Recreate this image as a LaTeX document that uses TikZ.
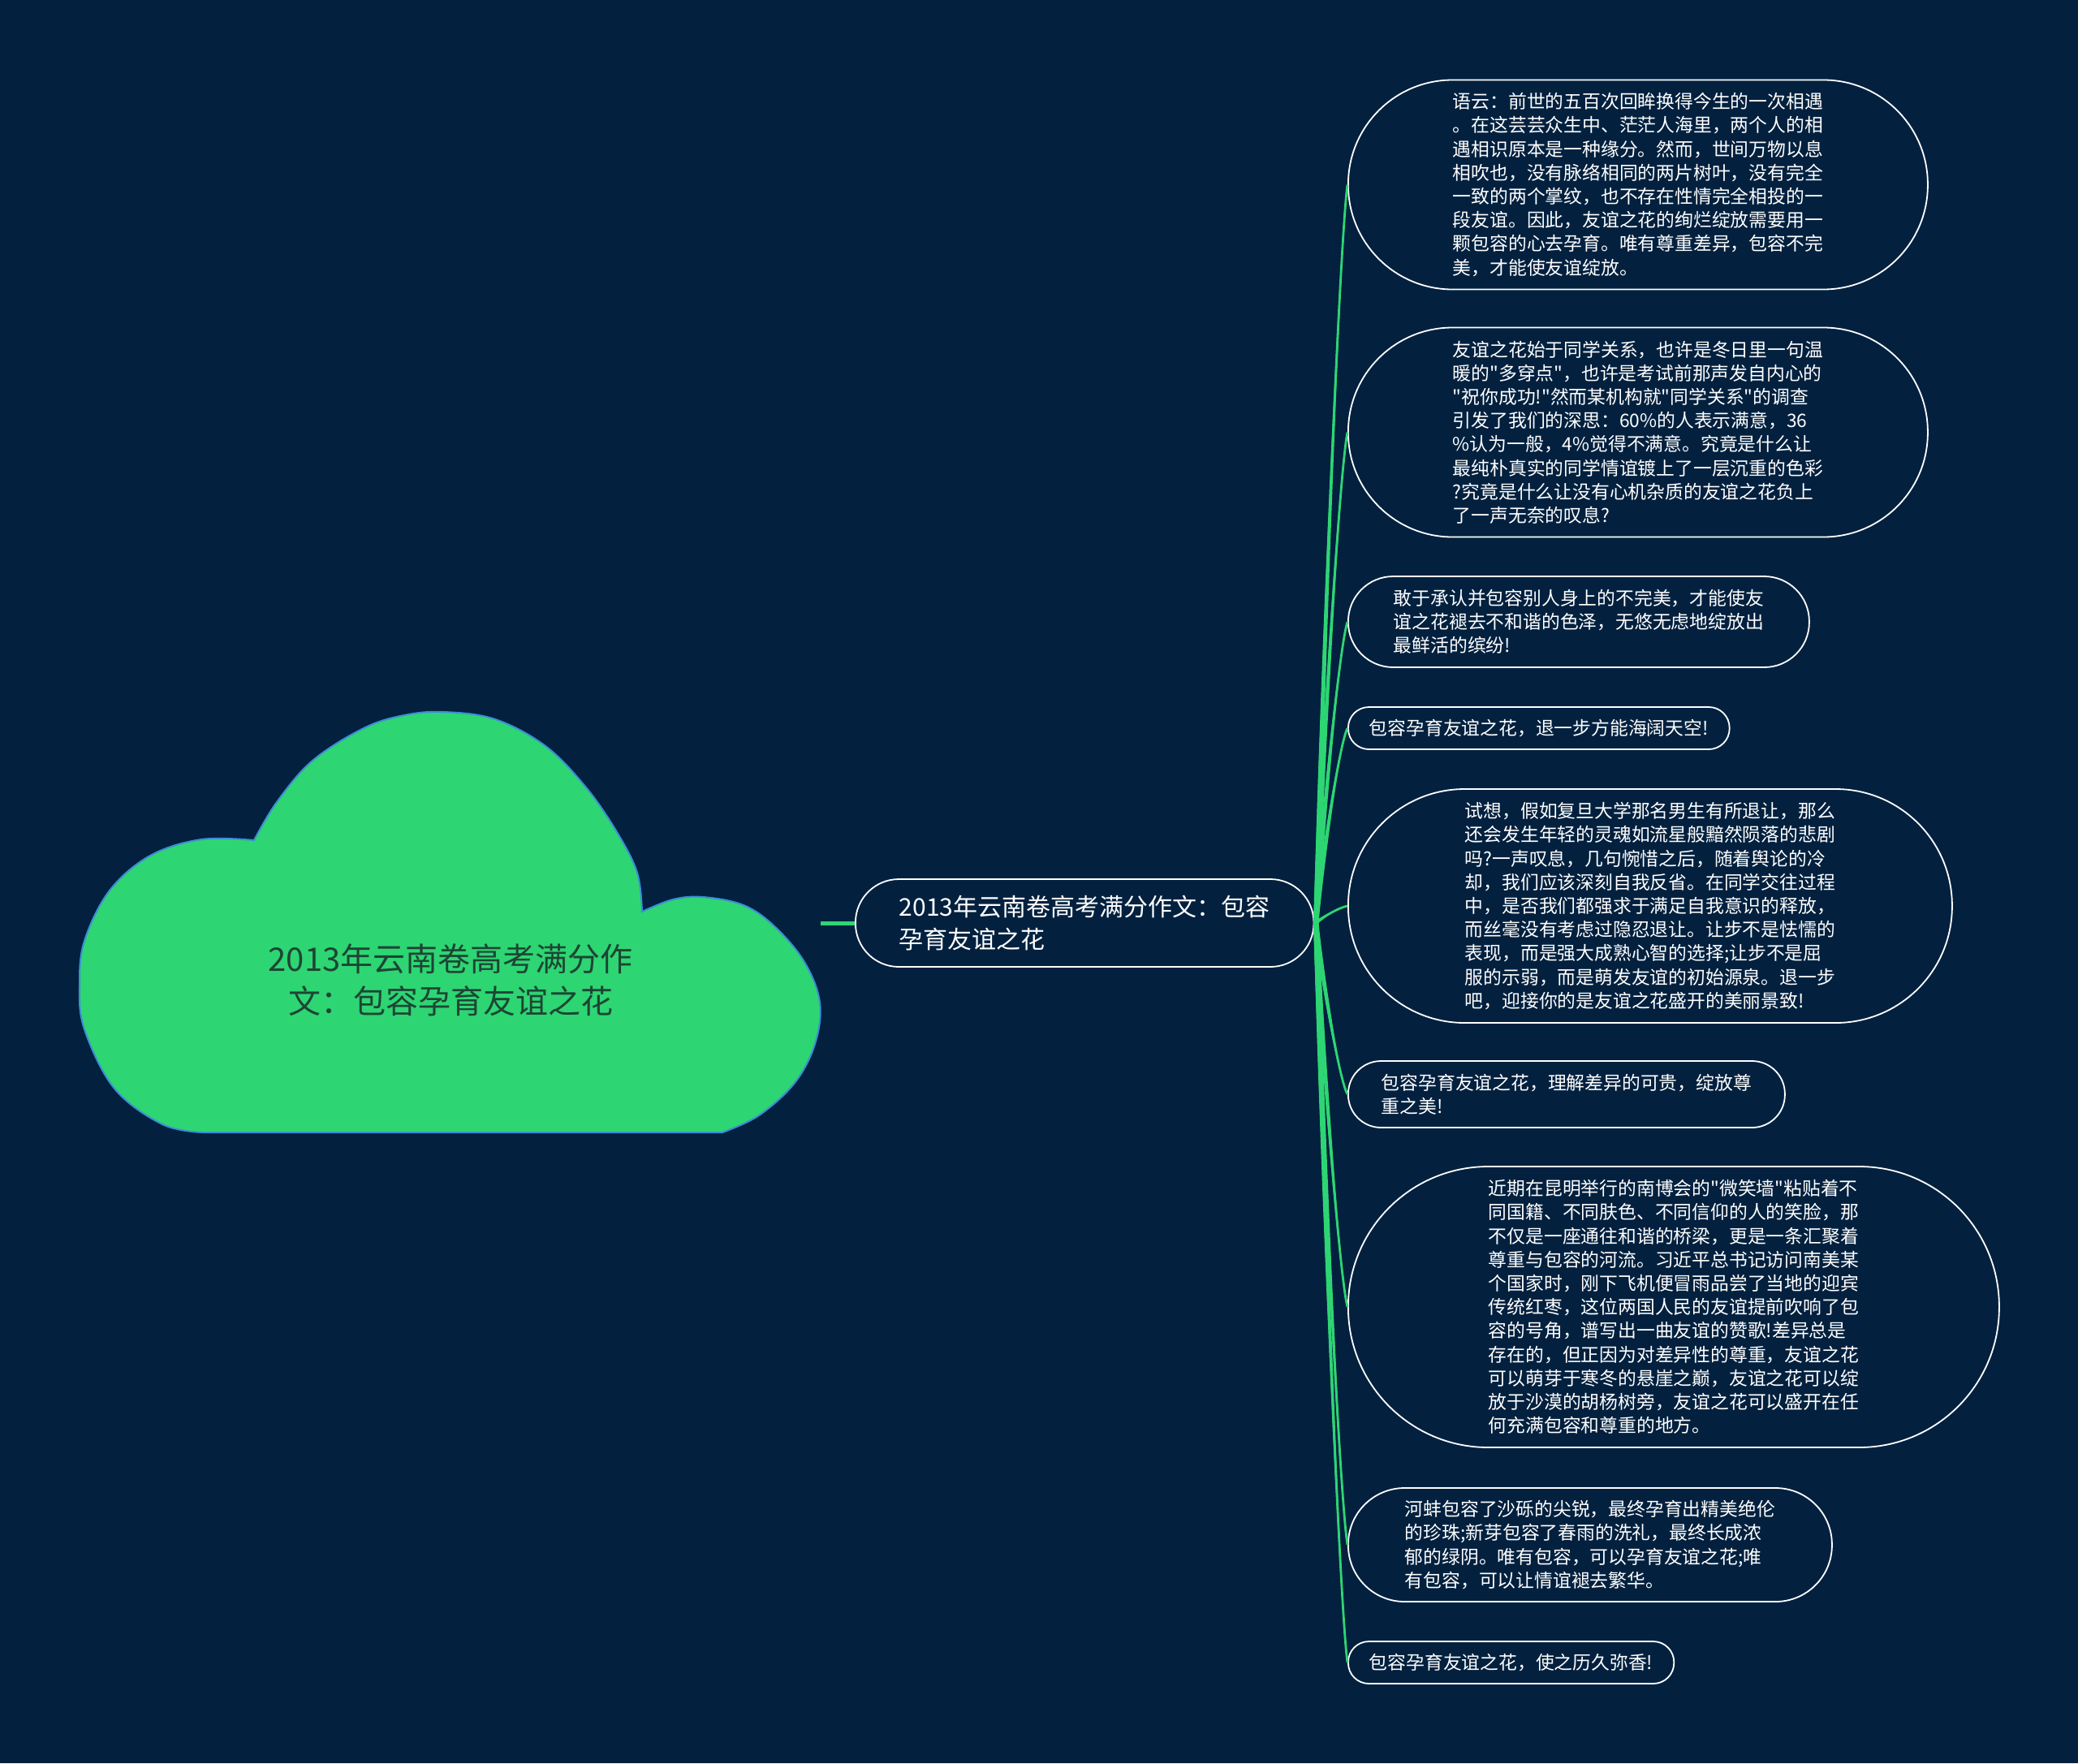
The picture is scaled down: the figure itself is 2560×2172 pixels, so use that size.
\documentclass[tikz,border=0pt]{standalone}
\usepackage{fontspec}
\newfontfamily\cjk{Noto Sans CJK SC}
\definecolor{bg}{HTML}{03213F}
\definecolor{mgreen}{HTML}{2ED573}
\definecolor{cloudedge}{HTML}{3C8DD6}
\definecolor{cloudtext}{HTML}{1D4534}
\tikzset{
  leafbox/.style={draw=white, line width=1.8pt, fill=bg, text=white, anchor=west,
    align=left, inner ysep=0pt, font=\cjk\fontsize{22.8}{29.2}\selectfont},
  branchline/.style={draw=mgreen, line width=2.8pt},
  cloudlabel/.style={text=cloudtext, align=center, font=\cjk\fontsize{40}{52}\selectfont},
}
\newcommand\mybranch[2]{%
  \fill[mgreen] ([xshift=-1pt]root.east) .. controls (1625,{1137+0.3*(#2-1137)}) and (1649,{#2+0.08*(1137-#2)}) .. (#1.west)
     .. controls (1651,{#2+0.08*(1137-#2)}) and (1631,{1137+0.3*(#2-1137)}) .. ([xshift=5pt]root.east) -- cycle;
  \draw[branchline] (root.east) .. controls (1628,{1137+0.3*(#2-1137)}) and (1650,{#2+0.08*(1137-#2)}) .. (#1.west);}
\begin{document}
\begin{tikzpicture}[x=1pt,y=-1pt]
\useasboundingbox (0,0) rectangle (2560,2172);
\fill[bg] (0,0) rectangle (2560,2172);

% cloud
\filldraw[fill=mgreen, draw=cloudedge, line width=2pt]
  plot[smooth, tension=0.6] coordinates {(313,1035) (341,988) (385,937) (448,897) (498,881) (547,877) (610,886) (672,919) (722,970) (760,1025) (785,1075) (791,1123)}
  -- plot[smooth, tension=0.6] coordinates {(791,1123) (829,1108) (866,1105) (916,1115) (954,1141) (991,1185) (1010,1235) (1004,1286) (979,1334) (935,1374) (890,1395)}
  -- plot[smooth, tension=0.6] coordinates {(250,1395) (200,1385) (141,1341) (104,1268) (98,1214) (104,1159) (135,1097) (185,1054) (248,1034) (313,1035)}
  -- cycle;
\node[cloudlabel] (title) at (555,1207) {2013年云南卷高考满分作\\文：包容孕育友谊之花};

% root
\node[leafbox, font=\cjk\fontsize{30}{40}\selectfont, minimum height=108pt, inner xsep=54pt, rounded corners=53.5pt] (root) at (1053,1137)
  {2013年云南卷高考满分作文：包容\\孕育友谊之花};
\coordinate (cloudR) at (1011,1137);
\draw[mgreen, line width=5pt] (cloudR) -- (root.west);

% leaves
\node[leafbox, minimum height=258pt, inner xsep=129pt, rounded corners=128.5pt] (l1) at (1660,227.5) {语云：前世的五百次回眸换得今生的一次相遇\\。在这芸芸众生中、茫茫人海里，两个人的相\\遇相识原本是一种缘分。然而，世间万物以息\\相吹也，没有脉络相同的两片树叶，没有完全\\一致的两个掌纹，也不存在性情完全相投的一\\段友谊。因此，友谊之花的绚烂绽放需要用一\\颗包容的心去孕育。唯有尊重差异，包容不完\\美，才能使友谊绽放。};

\node[leafbox, minimum height=258pt, inner xsep=129pt, rounded corners=128.5pt] (l2) at (1660,532.5) {友谊之花始于同学关系，也许是冬日里一句温\\暖的"多穿点"，也许是考试前那声发自内心的\\"祝你成功!"然而某机构就"同学关系"的调查\\引发了我们的深思：60\%的人表示满意，36\\\%认为一般，4\%觉得不满意。究竟是什么让\\最纯朴真实的同学情谊镀上了一层沉重的色彩\\?究竟是什么让没有心机杂质的友谊之花负上\\了一声无奈的叹息?};

\node[leafbox, minimum height=112pt, inner xsep=56pt, rounded corners=55.5pt] (l3) at (1660,766) {敢于承认并包容别人身上的不完美，才能使友\\谊之花褪去不和谐的色泽，无悠无虑地绽放出\\最鲜活的缤纷!};

\node[leafbox, minimum height=52pt, inner xsep=26pt, rounded corners=25.5pt] (l4) at (1660,897) {包容孕育友谊之花，退一步方能海阔天空!};

\node[leafbox, minimum height=288pt, inner xsep=144pt, rounded corners=143.5pt] (l5) at (1660,1116) {试想，假如复旦大学那名男生有所退让，那么\\还会发生年轻的灵魂如流星般黯然陨落的悲剧\\吗?一声叹息，几句惋惜之后，随着舆论的冷\\却，我们应该深刻自我反省。在同学交往过程\\中，是否我们都强求于满足自我意识的释放，\\而丝毫没有考虑过隐忍退让。让步不是怯懦的\\表现，而是强大成熟心智的选择;让步不是屈\\服的示弱，而是萌发友谊的初始源泉。退一步\\吧，迎接你的是友谊之花盛开的美丽景致!};

\node[leafbox, minimum height=82pt, inner xsep=41pt, rounded corners=40.5pt] (l6) at (1660,1348) {包容孕育友谊之花，理解差异的可贵，绽放尊\\重之美!};

\node[leafbox, minimum height=346pt, inner xsep=173pt, rounded corners=172.5pt] (l7) at (1660,1610) {近期在昆明举行的南博会的"微笑墙"粘贴着不\\同国籍、不同肤色、不同信仰的人的笑脸，那\\不仅是一座通往和谐的桥梁，更是一条汇聚着\\尊重与包容的河流。习近平总书记访问南美某\\个国家时，刚下飞机便冒雨品尝了当地的迎宾\\传统红枣，这位两国人民的友谊提前吹响了包\\容的号角，谱写出一曲友谊的赞歌!差异总是\\存在的，但正因为对差异性的尊重，友谊之花\\可以萌芽于寒冬的悬崖之巅，友谊之花可以绽\\放于沙漠的胡杨树旁，友谊之花可以盛开在任\\何充满包容和尊重的地方。};

\node[leafbox, minimum height=140pt, inner xsep=70pt, rounded corners=69.5pt] (l8) at (1660,1903) {河蚌包容了沙砾的尖锐，最终孕育出精美绝伦\\的珍珠;新芽包容了春雨的洗礼，最终长成浓\\郁的绿阴。唯有包容，可以孕育友谊之花;唯\\有包容，可以让情谊褪去繁华。};

\node[leafbox, minimum height=52pt, inner xsep=26pt, rounded corners=25.5pt] (l9) at (1660,2048) {包容孕育友谊之花，使之历久弥香!};

% branches
\mybranch{l1}{227.5}
\mybranch{l2}{532.5}
\mybranch{l3}{766}
\mybranch{l4}{897}
\mybranch{l5}{1116}
\mybranch{l6}{1348}
\mybranch{l7}{1610}
\mybranch{l8}{1903}
\mybranch{l9}{2048}
\end{tikzpicture}
\end{document}
